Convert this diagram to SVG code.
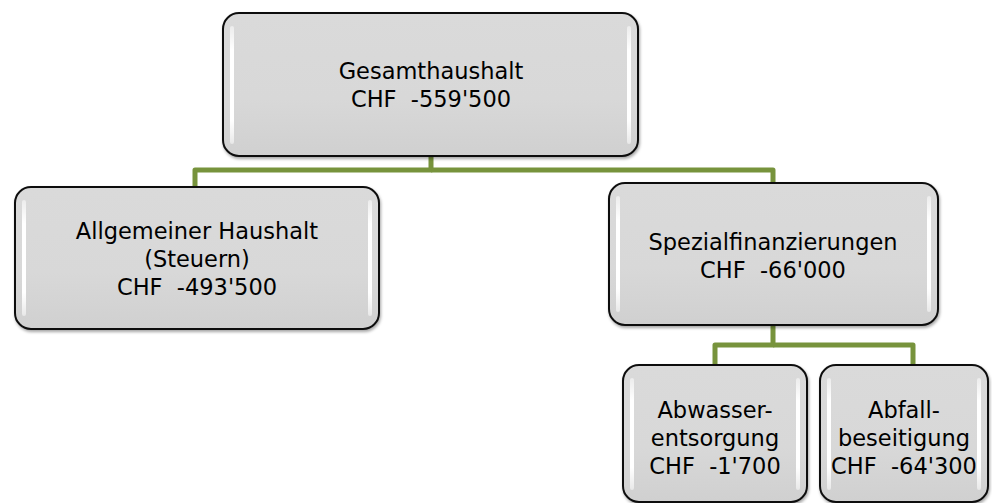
<svg xmlns="http://www.w3.org/2000/svg" width="992" height="503" viewBox="0 0 992 503">
<style>
.box{fill:url(#g);stroke:#111;stroke-width:2}
.hl{fill:url(#hg)}
.t{font-family:"DejaVu Sans",Verdana,sans-serif;font-size:22.5px;fill:#000;text-anchor:middle}
.c{fill:none;stroke:#77933c;stroke-width:5;stroke-linejoin:round}
</style>
<defs>
<linearGradient id="g" x1="0" y1="0" x2="0" y2="1">
<stop offset="0" stop-color="#dadada"/>
<stop offset="0.6" stop-color="#d8d8d8"/>
<stop offset="1" stop-color="#d0d0d0"/>
</linearGradient>
<linearGradient id="hg" x1="0" y1="0" x2="0" y2="1">
<stop offset="0" stop-color="#fff" stop-opacity="0.5"/>
<stop offset="0.2" stop-color="#fff" stop-opacity="1"/>
<stop offset="0.8" stop-color="#fff" stop-opacity="1"/>
<stop offset="1" stop-color="#fff" stop-opacity="0.5"/>
</linearGradient>
<filter id="sh" x="-5%" y="-5%" width="110%" height="115%">
<feDropShadow dx="1" dy="2" stdDeviation="1.5" flood-color="#000" flood-opacity="0.35"/>
</filter>
</defs>
<g id="connectors">
<path class="c" d="M431 156 V170 H195 V187"/>
<path class="c" d="M431 170 H773 V183"/>
<path class="c" d="M773 325 V345 H715 V365"/>
<path class="c" d="M773 345 H913 V365"/>
</g>
<g id="n1">
<rect class="box" x="223" y="13" width="415" height="143" rx="16" filter="url(#sh)"/>
<rect class="hl" x="230" y="26" width="4" height="118" rx="2"/>
<rect class="hl" x="627" y="26" width="4" height="118" rx="2"/>
<text class="t" x="431" y="79">Gesamthaushalt</text>
<text class="t" x="431" y="107" xml:space="preserve">CHF  -559'500</text>
</g>
<g id="n2">
<rect class="box" x="15" y="187" width="364" height="142" rx="16" filter="url(#sh)"/>
<rect class="hl" x="22" y="200" width="4" height="116" rx="2"/>
<rect class="hl" x="368" y="200" width="4" height="116" rx="2"/>
<text class="t" x="197" y="239">Allgemeiner Haushalt</text>
<text class="t" x="197" y="267">(Steuern)</text>
<text class="t" x="197" y="295" xml:space="preserve">CHF  -493'500</text>
</g>
<g id="n3">
<rect class="box" x="609" y="183" width="329" height="142" rx="16" filter="url(#sh)"/>
<rect class="hl" x="616" y="196" width="4" height="116" rx="2"/>
<rect class="hl" x="927" y="196" width="4" height="116" rx="2"/>
<text class="t" x="773" y="250">Spezialfinanzierungen</text>
<text class="t" x="773" y="278" xml:space="preserve">CHF  -66'000</text>
</g>
<g id="n4">
<rect class="box" x="623" y="365" width="184" height="137" rx="16" filter="url(#sh)"/>
<rect class="hl" x="630" y="378" width="4" height="112" rx="2"/>
<rect class="hl" x="796" y="378" width="4" height="112" rx="2"/>
<text class="t" x="715" y="418">Abwasser-</text>
<text class="t" x="715" y="446">entsorgung</text>
<text class="t" x="715" y="474" xml:space="preserve">CHF  -1'700</text>
</g>
<g id="n5">
<rect class="box" x="820" y="365" width="168" height="137" rx="16" filter="url(#sh)"/>
<rect class="hl" x="827" y="378" width="4" height="112" rx="2"/>
<rect class="hl" x="977" y="378" width="4" height="112" rx="2"/>
<text class="t" x="904" y="418">Abfall-</text>
<text class="t" x="904" y="446">beseitigung</text>
<text class="t" x="904" y="474" xml:space="preserve">CHF  -64'300</text>
</g>
</svg>
